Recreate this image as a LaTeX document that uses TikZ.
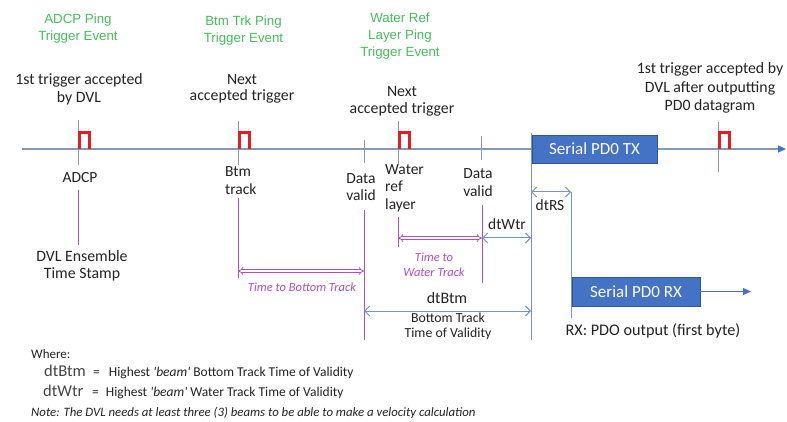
\documentclass[tikz,border=0pt]{standalone}
\usepackage{fontspec}
\setmainfont{Carlito}
\newfontfamily\arialf{Liberation Sans}
\usetikzlibrary{arrows.meta}
\definecolor{grn}{RGB}{70,190,90}
\definecolor{mag}{RGB}{176,78,196}
\definecolor{tline}{RGB}{135,152,178}
\definecolor{sblue}{RGB}{118,148,190}
\definecolor{boxblue}{RGB}{68,114,196}
\definecolor{boxedge}{RGB}{47,85,151}
\definecolor{pulsered}{RGB}{235,25,35}
\definecolor{txt}{RGB}{35,35,35}
\begin{document}
\begin{tikzpicture}[x=1pt,y=-1pt,
  greenlbl/.style={text=grn, font=\arialf\fontsize{13.3}{17}\selectfont, align=center, inner sep=0pt},
  blklbl/.style={text=txt, font=\fontsize{15.8}{18.5}\selectfont, align=center, inner sep=0pt},
  evtlbl/.style={text=txt, font=\fontsize{15.5}{17.5}\selectfont, align=center, inner sep=0pt},
  maglbl/.style={text=mag, font=\itshape\fontsize{12.5}{15}\selectfont, align=center, inner sep=0pt},
  smlbl/.style={text=txt, font=\fontsize{13}{14.5}\selectfont, align=center, inner sep=0pt},
  boxst/.style={fill=boxblue, draw=boxedge, line width=0.8pt, text=white, font=\fontsize{17}{20}\selectfont, minimum width=125pt, minimum height=28pt, inner sep=0pt},
  tickln/.style={tline, line width=0.8pt},
  pulse/.style={pulsered, line width=3pt},
  magln/.style={mag, line width=0.9pt},
  sbln/.style={sblue, line width=1pt},
  sbarr/.style={sblue, line width=1pt, {Straight Barb[length=5pt,width=10pt]}-{Straight Barb[length=5pt,width=10pt]}},
  magarr/.style={mag, double=white, double distance=2pt, line width=0.7pt, Implies-Implies},
]
\useasboundingbox (0,0) rectangle (787,422);
\fill[white] (0,0) rectangle (787,422);

% timeline
\coordinate (tlL) at (22,149);
\coordinate (tlR) at (786,149);
\draw[tline, line width=1.2pt, -{Triangle[length=8pt,width=7pt,color=boxblue]}] (tlL) -- (tlR);

% ticks
\draw[tickln] (78,120) -- (78,165);
\draw[tickln] (238,121) -- (238,165);
\draw[tickln] (364,140) -- (364,163);
\draw[tickln] (398,121) -- (398,164);
\draw[tickln] (481,136) -- (481,160);
\draw[tickln] (718,122) -- (718,172);

% pulses
\draw[pulse] (79,149) -- ++(0,-16) -- ++(10,0) -- ++(0,16);
\draw[pulse] (239,149) -- ++(0,-16) -- ++(10,0) -- ++(0,16);
\draw[pulse] (399,149) -- ++(0,-16) -- ++(10,0) -- ++(0,16);
\draw[pulse] (719,149) -- ++(0,-16) -- ++(10,0) -- ++(0,16);

% green labels
\node[greenlbl] (gAdcp) at (78,28.5) {ADCP Ping\\Trigger Event};
\node[greenlbl] (gBtm) at (243.5,31) {Btm Trk Ping\\Trigger Event};
\node[greenlbl] (gWtr) at (400,36) {Water Ref\\Layer Ping\\Trigger Event};

% black labels
\node[blklbl] (acc1) at (79,89.5) {1st trigger accepted\\by DVL};
\node[blklbl, font=\fontsize{15.8}{16.5}\selectfont] (acc2) at (242,89) {Next\\accepted trigger};
\node[blklbl, font=\fontsize{15.8}{16.5}\selectfont] (acc3) at (402,101.5) {Next\\accepted trigger};
\node[blklbl] (acc4) at (710,88) {1st trigger accepted by\\DVL after outputting\\PD0 datagram};

% event labels
\node[evtlbl] (lAdcp) at (80,178) {ADCP};
\node[evtlbl, align=left, anchor=west] (lBtm) at (225,180.5) {Btm\\track};
\node[evtlbl] (lDv1) at (361,187) {Data\\valid};
\node[evtlbl, align=left, anchor=west] (lWtr) at (385,188) {Water\\ref\\layer};
\node[evtlbl] (lDv2) at (478,182.5) {Data\\valid};
\node[evtlbl, font=\fontsize{15.8}{16.5}\selectfont] (lEns) at (82,266) {DVL Ensemble\\Time Stamp};

% magenta verticals
\draw[magln] (78,190) -- (78,245);
\draw[magln] (238,198) -- (238,278);
\draw[magln] (364,210) -- (364,340);
\draw[magln] (398,217) -- (398,247);
\draw[magln] (482,205) -- (482,283);

% magenta arrows
\coordinate (btA) at (238,271);
\coordinate (btB) at (364,271);
\draw[magarr] (btA) -- (btB);
\coordinate (wtA) at (398,238);
\coordinate (wtB) at (482,238);
\draw[magarr] (wtA) -- (wtB);
\node[maglbl] (tBtm) at (302,287) {Time to Bottom Track};
\node[maglbl] (tWtr) at (434,264.5) {Time to\\Water Track};

% boxes
\node[boxst] (tx) at (594.5,149) {Serial PD0 TX};
\node[boxst, minimum width=128pt, minimum height=29pt] (rx) at (636,291.5) {Serial PD0 RX};
\coordinate (rxEnd) at (751,291.5);
\draw[boxblue, line width=1.2pt, -{Triangle[length=8pt,width=7pt]}] (rx.east) -- (rxEnd);

% blue verticals
\coordinate (v1T) at (531,133);
\coordinate (v1B) at (531,340);
\draw[sbln] (v1T) -- (v1B);
\coordinate (v2T) at (571,192);
\coordinate (v2B) at (571,318);
\draw[sbln] (v2T) -- (v2B);

% blue arrows
\coordinate (rsA) at (531,192);
\draw[sbarr] (rsA) -- (v2T);
\coordinate (dwB) at (531,238);
\draw[sbarr] (wtB) -- (dwB);
\coordinate (dbA) at (364,311);
\coordinate (dbB) at (531,311);
\draw[sbarr] (dbA) -- (dbB);

\node[evtlbl] (lRS) at (550,205) {dtRS};
\node[evtlbl] (lWtr2) at (507,224) {dtWtr};
\node[evtlbl, font=\fontsize{16}{18}\selectfont] (lBtm2) at (447,298) {dtBtm};
\node[smlbl, font=\fontsize{13.8}{14.5}\selectfont] (lTov) at (448,326.5) {Bottom Track\\Time of Validity};
\node[evtlbl, font=\fontsize{16.2}{18}\selectfont] (lRx) at (653,331) {RX: PDO output (first byte)};

% legend
\node[anchor=west, text=txt, font=\fontsize{13}{14}\selectfont, inner sep=0pt] (where) at (31,354) {Where:};
\node[anchor=west, text=txt!85, font=\fontsize{16.5}{18}\selectfont, inner sep=0pt] (kBtm) at (44,371) {dtBtm};
\node[anchor=west, text=txt, font=\fontsize{13.5}{14}\selectfont, inner sep=0pt] (dBtm) at (93,373) {=\hspace{9pt}Highest {\itshape\textquotesingle beam\textquotesingle} Bottom Track Time of Validity};
\node[anchor=west, text=txt!85, font=\fontsize{16.5}{18}\selectfont, inner sep=0pt] (kWtr) at (43,391) {dtWtr};
\node[anchor=west, text=txt, font=\fontsize{13.5}{14}\selectfont, inner sep=0pt] (dWtr) at (92,393) {=\hspace{7pt}Highest {\itshape\textquotesingle beam\textquotesingle} Water Track Time of Validity};
\node[anchor=west, text=txt, font=\itshape\fontsize{12.8}{14}\selectfont, inner sep=0pt] (note) at (31,413) {Note: The DVL needs at least three (3) beams to be able to make a velocity calculation};
\end{tikzpicture}
\end{document}
